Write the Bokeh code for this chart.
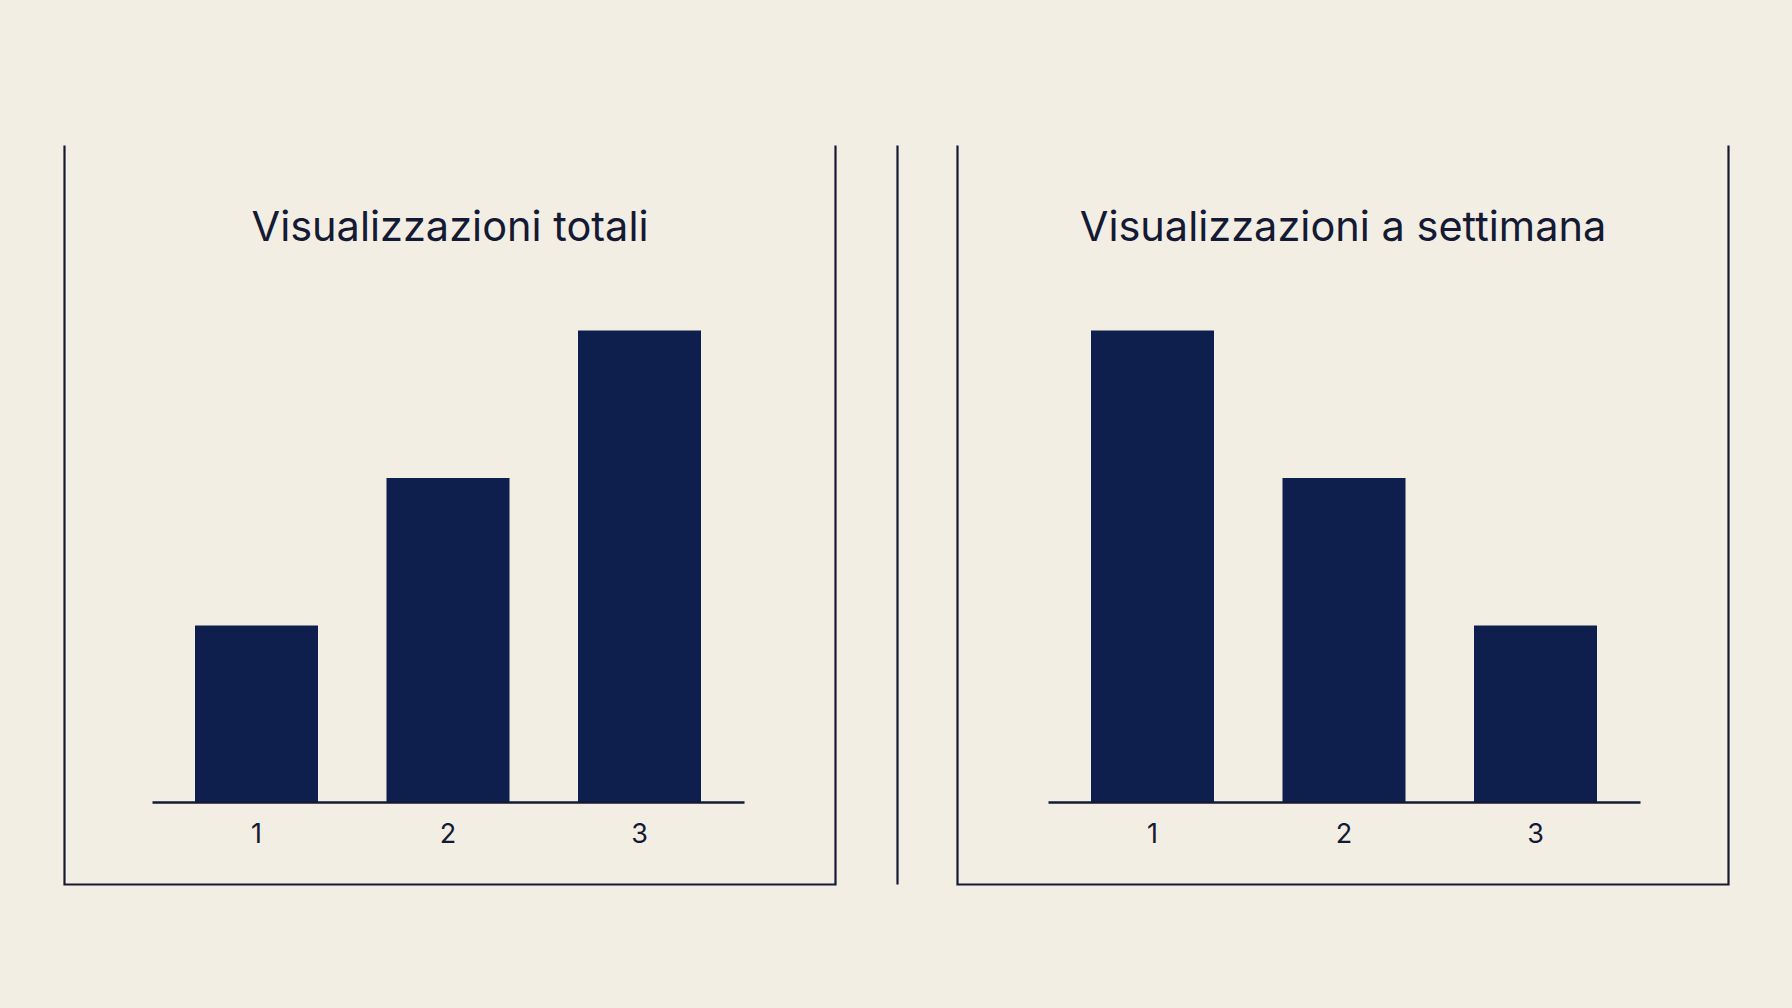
from bokeh.plotting import figure
from bokeh.layouts import row
from bokeh.models import FixedTicker, Label, Range1d
from bokeh.embed import file_html
from bokeh.resources import INLINE

# ---- data ----
categories = [1, 2, 3]
tick_labels = ["1", "2", "3"]
totali = [3, 5.5, 8]
settimana = [8, 5.5, 3]
titles = ["Visualizzazioni totali", "Visualizzazioni a settimana"]

# ---- style ----
BG = "#F3EEE4"
BAR = "#0E1F4E"
INK = "#141A33"
FONT = "Inter"

PXU = 191.5      # pixels per x unit
PYU = 59.0       # pixels per y unit
FIG_TOP = 0
FIG_H = 1008
FRAME_TOP = 141
FRAME_BOT = 888
BASE = 802       # page y of the zero line
BOX_TOP = 145
BOX_BOT = 884
TITLE_BASE = 225


def make_panel(values, title, fig_left, fig_width, frame_left, frame_right,
               center_px, box_left, box_right, divider=None):
    def xd(px):
        return 2 + (px - center_px) / PXU

    def yd(py):
        return (BASE - py) / PYU

    p = figure(
        width=fig_width, height=FIG_H,
        x_range=Range1d(xd(frame_left), xd(frame_right)),
        y_range=Range1d(yd(FRAME_BOT), yd(FRAME_TOP)),
        output_backend="svg", toolbar_location=None, tools="",
        y_axis_location=None,
        min_border_left=frame_left - fig_left,
        min_border_right=fig_left + fig_width - frame_right,
        min_border_top=FRAME_TOP - FIG_TOP,
        min_border_bottom=FIG_TOP + FIG_H - FRAME_BOT,
    )
    p.background_fill_color = BG
    p.border_fill_color = BG
    p.outline_line_color = None
    p.xgrid.visible = False
    p.ygrid.visible = False

    # bars
    p.vbar(x=categories, top=values, bottom=0, width=123 / PXU,
           fill_color=BAR, line_color=None)

    # open-top box
    p.line([xd(box_left), xd(box_left), xd(box_right), xd(box_right)],
           [yd(BOX_TOP), yd(BOX_BOT), yd(BOX_BOT), yd(BOX_TOP)],
           line_color=INK, line_width=2.2, line_join="miter")
    if divider is not None:
        p.line([xd(divider), xd(divider)], [yd(BOX_TOP), yd(BOX_BOT)],
               line_color=INK, line_width=2.2)

    # x axis as baseline
    ax = p.xaxis[0]
    ax.fixed_location = 0
    ax.bounds = (0.455, 3.55)
    ax.ticker = FixedTicker(ticks=categories)
    ax.major_label_overrides = {c: t for c, t in zip(categories, tick_labels)}
    ax.axis_line_color = INK
    ax.axis_line_width = 2.4
    ax.major_tick_line_color = None
    ax.minor_tick_line_color = None
    ax.major_label_text_font = FONT
    ax.major_label_text_font_size = "27px"
    ax.major_label_text_color = INK
    ax.major_label_standoff = 14

    # title inside the box
    p.add_layout(Label(x=xd((box_left + box_right) / 2), y=yd(TITLE_BASE), text=title,
                       text_align="center", text_baseline="alphabetic",
                       text_font=FONT, text_font_size="41.5px", text_color=INK))
    return p


left = make_panel(totali, titles[0], fig_left=0, fig_width=893,
                  frame_left=60, frame_right=839, center_px=447.5,
                  box_left=64, box_right=835)
right = make_panel(settimana, titles[1], fig_left=893, fig_width=899,
                   frame_left=893, frame_right=1732, center_px=1343.5,
                   box_left=957, box_right=1728, divider=897)

layout = row(left, right, spacing=0)
layout.styles = {"background-color": BG}

html = file_html(layout, INLINE, title="Visualizzazioni")
html = html.replace("</head>",
                    "<style>html, body { background-color: %s !important; margin: 0; overflow: hidden; }</style></head>" % BG, 1)
open("out.html", "w").write(html)
